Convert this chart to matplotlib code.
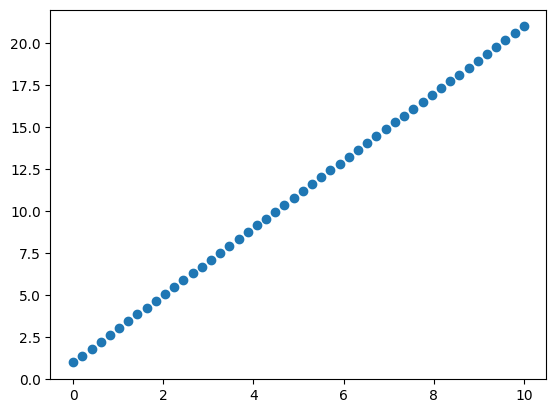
import matplotlib
matplotlib.use("Agg")
import matplotlib.pyplot as plt

# values
x_vals = [0.00, 0.20, 0.41, 0.61, 0.82, 1.02, 1.22, 1.43, 1.63, 1.84,
          2.04, 2.24, 2.45, 2.65, 2.86, 3.06, 3.27, 3.47, 3.67, 3.88,
          4.08, 4.29, 4.49, 4.69, 4.90, 5.10, 5.31, 5.51, 5.71, 5.92,
          6.12, 6.33, 6.53, 6.73, 6.94, 7.14, 7.35, 7.55, 7.76, 7.96,
          8.16, 8.37, 8.57, 8.78, 8.98, 9.18, 9.39, 9.59, 9.80, 10.00]
y_vals = [1.00, 1.41, 1.82, 2.22, 2.63, 3.04, 3.45, 3.86, 4.27, 4.67,
          5.08, 5.49, 5.90, 6.31, 6.71, 7.12, 7.53, 7.94, 8.35, 8.76,
          9.16, 9.57, 9.98, 10.39, 10.80, 11.20, 11.61, 12.02, 12.43, 12.84,
          13.24, 13.65, 14.06, 14.47, 14.88, 15.29, 15.69, 16.10, 16.51, 16.92,
          17.33, 17.73, 18.14, 18.55, 18.96, 19.37, 19.78, 20.18, 20.59, 21.00]

fig, ax = plt.subplots(figsize=(6.4, 4.8))
ax.scatter(x_vals, y_vals, color="#1f77b4")
ax.set_ylim(bottom=0)

plt.savefig("out.png", dpi=100, bbox_inches="tight")
